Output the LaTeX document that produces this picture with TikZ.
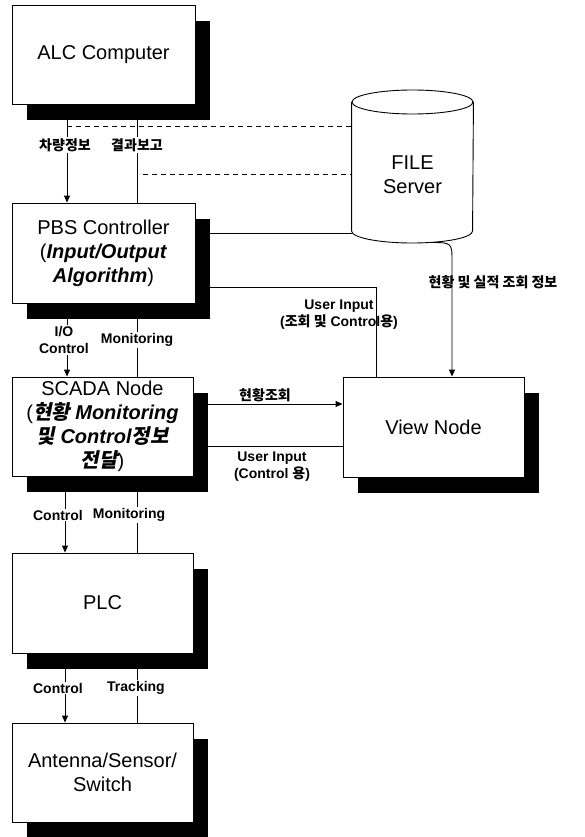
\documentclass[tikz,border=0pt]{standalone}
\usepackage{fontspec}
\setmainfont{Liberation Sans}
\newfontfamily\hangul{Noto Sans CJK KR}
\newfontfamily\hangulsl{Noto Sans CJK KR}[FakeSlant=0.2, BoldFeatures={FakeSlant=0.2}]
\newcommand\slkr[1]{{\hangulsl\upshape #1}}
\usetikzlibrary{arrows.meta,shadows}

\begin{document}
\begin{tikzpicture}[x=1pt, y=-1pt, line width=0.9pt,
    >={Triangle[length=7pt,width=6pt]},
    box/.style={draw, fill=white, minimum width=181pt, minimum height=99pt, align=center,
      font=\fontsize{20}{24}\selectfont,
      drop shadow={shadow xshift=15pt, shadow yshift=-16pt, fill=black, opacity=1}},
    lbl/.style={fill=white, inner sep=1pt, align=center, font=\bfseries\fontsize{14}{17}\selectfont},
    klbl/.style={lbl, font=\hangul\bfseries\fontsize{14}{17}\selectfont},
    link/.style={dash pattern=on 5pt off 4pt}]
    \useasboundingbox (0,0) rectangle (585,837);

    \node[box, minimum width=183pt] at (103.5,54.5) (alc) {ALC Computer};
    \node[box, minimum width=183pt, minimum height=100pt] at (103.5,253) (pbs) {PBS Controller\\(\textbf{\textit{Input/Output}}\\\textbf{\textit{Algorithm}})};
    \node[box] at (102.5,426.5) (scada) {SCADA Node\\(\textbf{\textit{\slkr{현황} Monitoring}}\\\textbf{\textit{\slkr{및} Control\slkr{정보}}}\\\textbf{\slkr{전달}})};
    \node[box, minimum height=100pt] at (102.5,603) (plc) {PLC};
    \node[box] at (102.5,772.5) (ant) {Antenna/Sensor/\\Switch};
    \node[box, minimum height=100pt] at (433.5,427) (view) {View Node};
    \node[minimum width=121pt, minimum height=120pt, align=center, font=\fontsize{20}{24}\selectfont] at (412.5,175) (srv) {FILE\\Server};

    \draw (srv.west |- 0,102) -- (srv.west |- 0,231) arc[start angle=180, end angle=360, x radius=60.5pt, y radius=12pt] -- (srv.east |- 0,102);
    \draw (412.5,102) ellipse [x radius=60.5pt, y radius=12pt];

    \coordinate (tap1) at (67,126);
    \coordinate (tap2) at (143,174);
    \coordinate (srvbot) at (430,242.5);

    \draw[->] (alc.south -| 67,0) -- (pbs.north -| 67,0);
    \draw[<-] (alc.south -| 137,0) -- (pbs.north -| 137,0);
    \draw[link] (tap1) -- (srv.west |- tap1);
    \draw[link] (tap2) -- (srv.west |- tap2);
    \node[klbl] at (65,145) (carinfo) {차량정보};
    \node[klbl] at (137,145) (report) {결과보고};

    \draw[->] (pbs.south -| 67,0) -- (scada.north -| 67,0);
    \draw[<-] (pbs.south -| 137,0) -- (scada.north -| 137,0);
    \node[lbl] at (64,340) (ioctl) {I/O\\Control};
    \node[lbl] at (137,340) (mon1) {Monitoring};

    \draw[->] (scada.south -| 65,0) -- (plc.north -| 65,0);
    \draw[<-] (scada.south -| 137,0) -- (plc.north -| 137,0);
    \node[lbl] at (58,515) (ctl1) {Control};
    \node[lbl] at (129,515) (mon2) {Monitoring};

    \draw[->] (plc.south -| 65,0) -- (ant.north -| 65,0);
    \draw[<-] (plc.south -| 137,0) -- (ant.north -| 137,0);
    \node[lbl] at (58,688) (ctl2) {Control};
    \node[lbl] at (136,688) (track) {Tracking};

    \draw (pbs.east |- 0,233) -- (srv.west |- 0,233);
    \draw[<-] (pbs.east |- 0,287) -| (view.north -| 376,0);
    \node[lbl, fill=none] at (339,315) (uin1) {User Input\\({\hangul 조회 및} Control{\hangul 용})};

    \draw[->] (srvbot) .. controls (452,242.5) .. (452,262) -- (view.north -| 452,0);
    \node[klbl, fill=none] at (493,282) (stat) {현황 및 실적 조회 정보};

    \draw[->] (scada.east |- 0,404) -- (view.west |- 0,404);
    \node[klbl, fill=none, anchor=south] at (265,403) (query) {현황조회};
    \draw[<-] (scada.east |- 0,446) -- (view.west |- 0,446);
    \node[lbl, fill=none] at (272,467) (uin2) {User Input\\(Control {\hangul 용})};
\end{tikzpicture}
\end{document}
